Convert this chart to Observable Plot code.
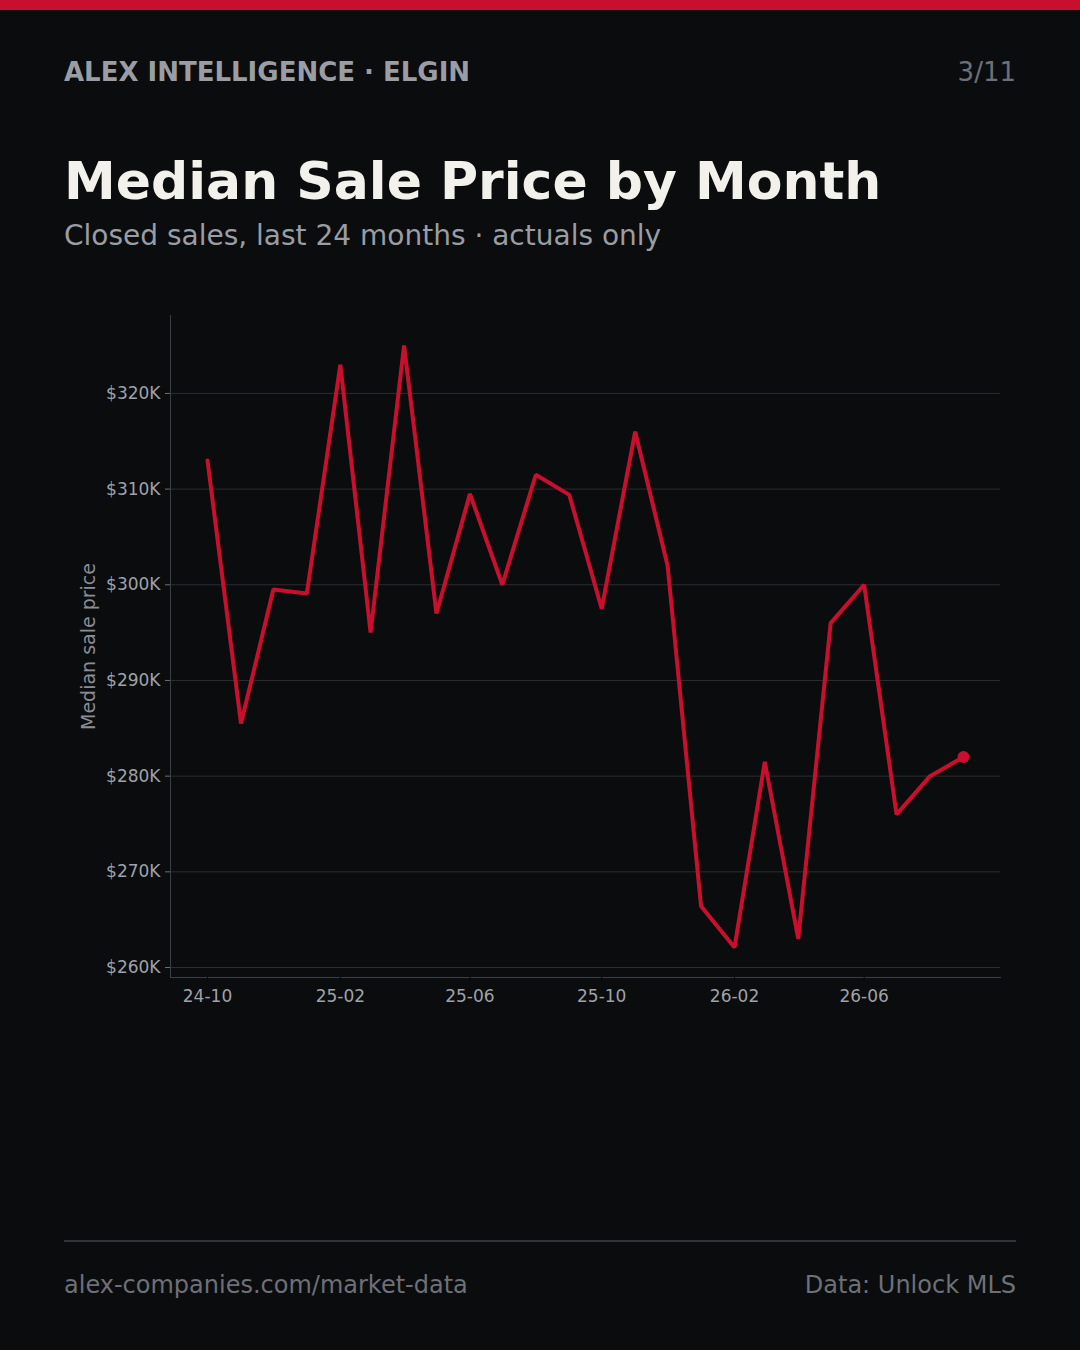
<!DOCTYPE html>
<html>
<head>
<meta charset="utf-8">
<script src="https://cdn.jsdelivr.net/npm/d3@7"></script>
<script src="https://cdn.jsdelivr.net/npm/@observablehq/plot@0.6"></script>
<style>
  html, body { margin: 0; padding: 0; background: #0b0c0e; }
  body { width: 1080px; height: 1350px; position: relative; overflow: hidden; font-family: "DejaVu Sans", sans-serif; }
  .bar { position: absolute; left: 0; top: 0; width: 1080px; height: 10px; background: #c8102e; }
  .t { position: absolute; white-space: nowrap; line-height: 1; }
  .brand { left: 64px; top: 59px; font-size: 26px; font-weight: bold; color: #9a9da3; }
  .page { right: 64px; top: 59px; font-size: 26px; color: #6d7076; }
  .title { left: 64px; top: 155px; font-size: 52px; font-weight: bold; color: #f3f1ec; }
  .subtitle { left: 64px; top: 222px; font-size: 28px; color: #9a9da3; }
  #chart { position: absolute; left: 0; top: 290px; }
  .rule { position: absolute; left: 64px; top: 1240px; width: 952px; height: 2px; background: #2f3236; }
  .foot { top: 1273px; font-size: 24px; color: #6d7076; }
  .foot.l { left: 64px; }
  .foot.r { right: 64px; }
</style>
</head>
<body>
<div class="bar"></div>
<div class="t brand">ALEX INTELLIGENCE · ELGIN</div>
<div class="t page">3/11</div>
<div class="t title">Median Sale Price by Month</div>
<div class="t subtitle">Closed sales, last 24 months · actuals only</div>
<div id="chart"></div>
<div class="rule"></div>
<div class="t foot l">alex-companies.com/market-data</div>
<div class="t foot r">Data: Unlock MLS</div>
<script>
// Monthly closed-sale medians (USD)
const months = [
  "2024-10", "2024-11", "2024-12", "2025-01", "2025-02", "2025-03",
  "2025-04", "2025-05", "2025-06", "2025-07", "2025-08", "2025-09",
  "2025-10", "2025-11", "2025-12", "2026-01", "2026-02", "2026-03",
  "2026-04", "2026-05", "2026-06", "2026-07", "2026-08", "2026-09"
];
const medianPrice = [
  313000, 285500, 299500, 299100, 323000, 295000,
  325000, 297000, 309500, 300000, 311500, 309400,
  297500, 316000, 302000, 266400, 262100, 281500,
  263000, 296000, 300000, 276000, 280000, 282000
];
const xTickMonths = ["2024-10", "2025-02", "2025-06", "2025-10", "2026-02", "2026-06"];
const yTicks = [260000, 270000, 280000, 290000, 300000, 310000, 320000];
const yLabel = "Median sale price";

const parseMonth = d3.utcParse("%Y-%m");
const data = months.map((m, i) => ({date: parseMonth(m), price: medianPrice[i]}));
const last = data[data.length - 1];

// pad the value extent by 5% on each side
const [lo, hi] = d3.extent(medianPrice);
const pad = (hi - lo) * 0.05;

const red = "#c8102e";
const chart = Plot.plot({
  width: 1080,
  height: 740,
  marginTop: 25,
  marginBottom: 53,
  marginLeft: 170,
  marginRight: 80,
  style: {background: "transparent", color: "#9fa2a8", fontFamily: "DejaVu Sans", fontSize: "17px"},
  x: {type: "utc", insetLeft: 37, insetRight: 37},
  y: {domain: [lo - pad, hi + pad]},
  marks: [
    Plot.gridY(yTicks, {stroke: "#2b2d31", strokeOpacity: 1}),
    Plot.frame({anchor: "left", stroke: "#3b3e43"}),
    Plot.frame({anchor: "bottom", stroke: "#3b3e43"}),
    Plot.axisY({
      ticks: yTicks,
      tickFormat: d => `$${d / 1000}K`,
      tickSize: 5,
      tickPadding: 5,
      stroke: "#6b6e73",
      label: null
    }),
    Plot.axisX({
      ticks: xTickMonths.map(parseMonth),
      tickFormat: d3.utcFormat("%y-%m"),
      tickSize: 4,
      tickPadding: 8,
      stroke: "#050506",
      label: null
    }),
    Plot.text([yLabel], {
      frameAnchor: "left",
      textAnchor: "middle",
      dx: -82,
      rotate: -90,
      fill: "#8a8d93",
      fontSize: 19
    }),
    Plot.line(data, {x: "date", y: "price", stroke: red, strokeWidth: 4, strokeLinejoin: "miter"}),
    Plot.dot([last], {x: "date", y: "price", r: 6, fill: red, stroke: "none"})
  ]
});
document.getElementById("chart").append(chart);
</script>
</body>
</html>
